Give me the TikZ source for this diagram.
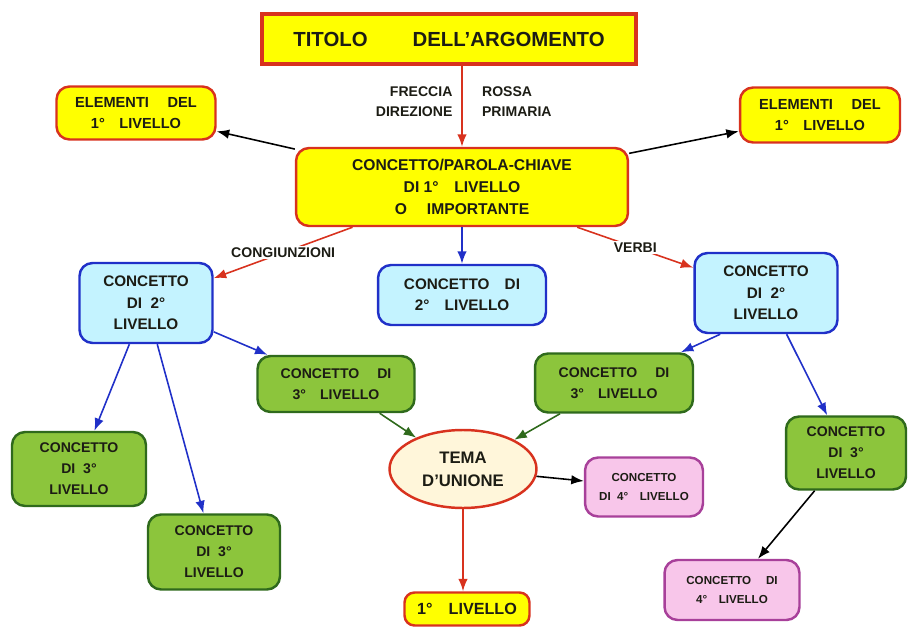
\documentclass[tikz,border=0pt]{standalone}
\usepackage{fontspec}
\setmainfont{Liberation Sans}
\usepackage{xcolor}
\usetikzlibrary{shapes}
\usetikzlibrary{positioning, arrows.meta}
\definecolor{Giallo}{HTML}{FFFF00}
\definecolor{Rosso}{HTML}{D8321E}
\definecolor{Azzurro}{HTML}{C4F3FF}
\definecolor{Blu}{HTML}{2030C8}
\definecolor{Verde}{HTML}{8CC53C}
\definecolor{VerdeScuro}{HTML}{2F6A1C}
\definecolor{Rosa}{HTML}{F8C6EA}
\definecolor{Viola}{HTML}{A8409A}
\definecolor{Crema}{HTML}{FFF6DA}
\definecolor{Testo}{HTML}{1C1C14}

\begin{document}
\begin{tikzpicture}[x=0.02cm, y=-0.02cm]
                % Define the styles for boxes and arrows
                \tikzstyle{casella}=[rounded corners=2.6mm, line width=1.4pt, align=center, text=Testo, inner sep=2pt];
                \tikzstyle{gialla}=[casella, fill=Giallo, draw=Rosso];
                \tikzstyle{azzurra}=[casella, fill=Azzurro, draw=Blu, font=\bfseries\fontsize{8.7}{12.2}\selectfont];
                \tikzstyle{verde}=[casella, fill=Verde, draw=VerdeScuro, font=\bfseries\fontsize{8}{12}\selectfont];
                \tikzstyle{rosa}=[casella, fill=Rosa, draw=Viola, font=\bfseries\fontsize{6.6}{11}\selectfont];
                \tikzstyle{freccia}=[line width=0.9pt, -{Latex[length=2.5mm, width=1.9mm]}];
                \tikzstyle{etichetta}=[font=\bfseries\fontsize{8}{11}\selectfont, text=Testo, inner sep=1pt];
                
                % Fix the size of the page
                \useasboundingbox (0,0) rectangle (909,628);
                
                % Title and the key concept
                \node[draw=Rosso, fill=Giallo, line width=2.2pt, minimum width=7.48cm, minimum height=1cm, text=Testo, font=\bfseries\fontsize{11.6}{14}\selectfont] (titolo) at (449,39) {TITOLO\hspace{2.2em}DELL'ARGOMENTO};
                \node[gialla, minimum width=6.64cm, minimum height=1.56cm, font=\bfseries\fontsize{8.9}{12.4}\selectfont] (chiave) at (462,187) {CONCETTO/PAROLA-CHIAVE\\DI\ 1°\quad LIVELLO\\O\quad\ IMPORTANTE};
                
                % Elements of the first level
                \node[gialla, minimum width=3.18cm, minimum height=1.06cm, font=\bfseries\fontsize{8.3}{11.5}\selectfont] (elsx) at (136,113) {ELEMENTI\quad\ DEL\\1°\quad LIVELLO};
                \node[gialla, minimum width=3.2cm, minimum height=1.1cm, font=\bfseries\fontsize{8.3}{11.5}\selectfont] (eldx) at (820,115) {ELEMENTI\quad\ DEL\\1°\quad LIVELLO};
                
                % Concepts of the second level
                \node[azzurra, minimum width=2.66cm, minimum height=1.6cm] (sec1) at (146,303) {CONCETTO\\DI\ \ 2°\\LIVELLO};
                \node[azzurra, minimum width=3.36cm, minimum height=1.2cm] (sec2) at (462,295) {CONCETTO\quad DI\\2°\quad LIVELLO};
                \node[azzurra, minimum width=2.86cm, minimum height=1.6cm] (sec3) at (766,293) {CONCETTO\\DI\ \ 2°\\LIVELLO};
                
                % Concepts of the third level
                \node[verde, minimum width=3.14cm, minimum height=1.12cm] (ter1) at (336,384) {CONCETTO\quad\ DI\\3°\quad LIVELLO};
                \node[verde, minimum width=3.16cm, minimum height=1.18cm] (ter2) at (614,383) {CONCETTO\quad\ DI\\3°\quad LIVELLO};
                \node[verde, minimum width=2.68cm, minimum height=1.48cm] (ter3) at (79,469) {CONCETTO\\DI\ \ 3°\\LIVELLO};
                \node[verde, minimum width=2.64cm, minimum height=1.5cm] (ter4) at (214,552) {CONCETTO\\DI\ \ 3°\\LIVELLO};
                \node[verde, minimum width=2.4cm, minimum height=1.46cm] (ter5) at (846,453) {CONCETTO\\DI\ \ 3°\\LIVELLO};
                
                % Theme of union and the last boxes
                \node[ellipse, draw=Rosso, fill=Crema, line width=1.4pt, minimum width=2.94cm, minimum height=1.56cm, inner sep=0pt, align=center, text=Testo, font=\bfseries\fontsize{9.5}{13}\selectfont] (tema) at (463,469) {TEMA\\D'UNIONE};
                \node[rosa, minimum width=2.36cm, minimum height=1.18cm] (qua1) at (644,487) {CONCETTO\\DI\ \ 4°\quad LIVELLO};
                \node[rosa, minimum width=2.7cm, minimum height=1.2cm] (qua2) at (732,590) {CONCETTO\quad\ DI\\4°\quad LIVELLO};
                \node[gialla, rounded corners=2mm, minimum width=2.5cm, minimum height=0.66cm, font=\bfseries\fontsize{9.2}{12}\selectfont] (primo) at (467,609) {1°\quad LIVELLO};
                
                % Red arrows: primary direction
                \draw[freccia, Rosso] (titolo.south -| chiave.north) -- (chiave.north)
                    node[etichetta, pos=0.44, left=4pt, align=right] {FRECCIA\\DIREZIONE}
                    node[etichetta, pos=0.44, right=10pt, align=left] {ROSSA\\PRIMARIA};
                \draw[freccia, Rosso] (chiave) -- (sec1) node[etichetta, midway, fill=white] {CONGIUNZIONI};
                \draw[freccia, Rosso] (chiave) -- (sec3) node[etichetta, midway, fill=white] {VERBI};
                \draw[freccia, Rosso] (tema.south) -- (tema.south |- primo.north);
                
                % Black arrows
                \draw[freccia] (chiave) -- (elsx);
                \draw[freccia] (chiave) -- (eldx);
                \draw[freccia] (tema) -- (qua1);
                \draw[freccia] (ter5) -- (qua2);
                
                % Blue arrows
                \draw[freccia, Blu] (chiave.south) -- (sec2);
                \draw[freccia, Blu] (sec1) -- (ter1);
                \draw[freccia, Blu] (sec1) -- (ter3);
                \draw[freccia, Blu] (sec1) -- (ter4);
                \draw[freccia, Blu] (sec3.222) -- (ter2);
                \draw[freccia, Blu] (sec3) -- (ter5);
                
                % Green arrows into the theme
                \draw[freccia, VerdeScuro] (ter1) -- (tema);
                \draw[freccia, VerdeScuro] (ter2) -- (tema);
            \end{tikzpicture}
\end{document}
